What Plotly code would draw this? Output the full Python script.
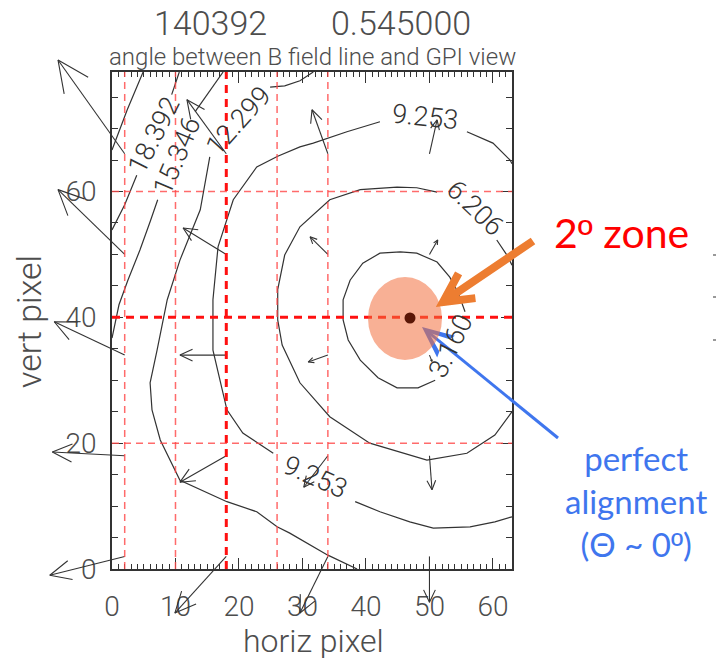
import math
import plotly.graph_objects as go

# ---------------------------------------------------------------------------
# Angle between B field line and GPI view, shot 140392 at t = 0.545 s
# Contour paths are (horiz pixel, vert pixel); None marks the gap left for
# the in-line level label.
# ---------------------------------------------------------------------------
LEVEL_TEXT = ["3.160", "6.206", "9.253", "9.253", "12.299", "15.346", "18.392"]
LABEL_X = [53.3, 57.2, 49.3, 32.0, 19.9, 10.2, 6.6]
LABEL_Y = [35.5, 57.4, 71.9, 14.6, 71.2, 65.7, 69.0]
LABEL_ANGLE = [-64, 44, 6, 24, -48, -67, -63]

c3160 = [(55.6, 40.9), (54.5, 44.0), (53.2, 46.4), (51.2, 48.8), (48.0, 50.2),
         (45.4, 50.4), (42.2, 50.2), (39.5, 48.6), (37.5, 45.9), (36.4, 42.8),
         (36.4, 39.6), (37.2, 36.4), (39.1, 33.2), (41.9, 30.4), (44.9, 28.8),
         (48.2, 28.8), (50.9, 30.0)]
c6206 = [(63.0, 48.3), (62.2, 49.9), (60.6, 52.3), None,
         (51.2, 59.9), (48.0, 60.6), (44.9, 60.7), (39.1, 60.3), (34.3, 58.7),
         (29.6, 54.4), (27.2, 49.9), (26.1, 44.4), (26.1, 39.6), (26.8, 35.6),
         (29.6, 29.6), (34.3, 24.2), (40.6, 20.0), (49.6, 17.3), (55.9, 18.4),
         (60.3, 21.3), (63.0, 25.0)]
c9253 = [(63.0, 64.4), (62.7, 65.0), (60.0, 67.7), (55.9, 69.5), None,
         (42.2, 71.1), (37.0, 69.5), (31.7, 67.7), (29.6, 67.1), (26.1, 65.6),
         (22.8, 63.9), (19.1, 58.7), (16.7, 51.2), (15.9, 42.8), (15.9, 34.8),
         (18.1, 25.3), (20.6, 21.6), (25.4, 18.4), None,
         (38.3, 10.7), (42.2, 9.1), (46.9, 7.5), (50.6, 6.5), (56.4, 6.7),
         (60.3, 7.5), (63.0, 8.3)]
c12299 = [(38.6, 0.0), (34.0, 2.2), (28.0, 5.7), (26.0, 6.7), (22.8, 9.1),
          (18.1, 10.7), (10.7, 14.1), (7.6, 20.5), (6.3, 25.3), (6.0, 29.6),
          (7.1, 34.8), (8.7, 42.8), (10.7, 49.1), (13.9, 57.1), (15.4, 65.5), None,
          (24.9, 76.6), (27.2, 76.8), (29.6, 77.6), (31.7, 79.0)]
c15346 = [(0.0, 36.7), (1.1, 42.0), (2.5, 45.9), (4.4, 50.7), (6.0, 55.2),
          (7.2, 58.7), None, (13.1, 72.7), (17.5, 79.0)]
c18392 = [(0.0, 53.9), (2.0, 57.9), (3.9, 62.6), None, (9.4, 75.4), (10.6, 79.0)]
c21438 = [(0.0, 66.6), (2.4, 73.0), (4.9, 79.0)]

# B-field direction vectors sampled on a coarse grid
VEC_X0 = [2, 18, 34, 50]
VEC_Y0 = [2, 18, 34, 50, 66]
VEC_U = [[-11.8, -8.1, -4.4, 0.0],
         [-11.4, -7.3, -3.8, 0.4],
         [-11.1, -7.3, -3.1, 0.4],
         [-10.5, -6.8, -2.8, 1.3],
         [-10.5, -6.2, -2.5, 1.2]]
VEC_V = [[-3.0, -9.0, -9.0, -7.3],
         [0.6, -4.2, -5.0, -5.4],
         [5.3, 0.0, -1.1, -1.0],
         [10.3, 4.2, 2.8, 2.3],
         [14.9, 8.6, 7.0, 5.4]]

# GPI view-chord guide lines
GUIDE_X = [2, 10, 18, 26, 34]
GUIDE_Y = [20, 40, 60]
GUIDE_X_BOLD = 18
GUIDE_Y_BOLD = 40

X_RANGE = [0, 63]
Y_RANGE = [0, 79]
X_TICKS = [0, 10, 20, 30, 40, 50, 60]
Y_TICKS = [0, 20, 40, 60]

# ---------------------------------------------------------------------------
W, H = 718, 661
ML, MR, MT, MB = 112, 206, 72, 92          # frame position inside the page
PW, PH = W - ML - MR, H - MT - MB

# a second, invisible pair of axes spans the whole page with the same units,
# so that vectors leaving the frame are not clipped
SX = PW / (X_RANGE[1] - X_RANGE[0])
SY = PH / (Y_RANGE[1] - Y_RANGE[0])
X2_RANGE = [X_RANGE[0] - ML / SX, X_RANGE[1] + MR / SX]
Y2_RANGE = [Y_RANGE[0] - MB / SY, Y_RANGE[1] + MT / SY]

def pxx(x):
    return x / W

def pxy(y):
    return 1 - y / H

INK = "#333333"
TXT = "#4d4d4d"
FONT = "Roboto"

fig = go.Figure()

for path in [c3160, c6206, c9253, c12299, c15346, c18392, c21438]:
    xs = [p[0] if p else None for p in path]
    ys = [p[1] if p else None for p in path]
    fig.add_trace(go.Scatter(x=xs, y=ys, mode="lines", connectgaps=False,
                             line=dict(color=INK, width=1.2),
                             hoverinfo="skip", showlegend=False))

# vector arrows with open heads
ax_, ay_ = [], []
for j, y0 in enumerate(VEC_Y0):
    for i, x0 in enumerate(VEC_X0):
        u, v = VEC_U[j][i], VEC_V[j][i]
        length = math.hypot(u, v)
        if length == 0:
            continue
        x1, y1 = x0 + u, y0 + v
        ang = math.atan2(v, u)
        head = 0.3 * length
        hx = [x1 + head * math.cos(ang + math.pi + s * math.radians(25)) for s in (1, -1)]
        hy = [y1 + head * math.sin(ang + math.pi + s * math.radians(25)) for s in (1, -1)]
        ax_ += [x0, x1, None, hx[0], x1, hx[1], None]
        ay_ += [y0, y1, None, hy[0], y1, hy[1], None]
fig.add_trace(go.Scatter(x=ax_, y=ay_, mode="lines", xaxis="x2", yaxis="y2",
                         line=dict(color=INK, width=1.1), connectgaps=False,
                         hoverinfo="skip", showlegend=False))

annotations = []

# contour level labels
for t, x, y, a in zip(LEVEL_TEXT, LABEL_X, LABEL_Y, LABEL_ANGLE):
    annotations.append(dict(x=x, y=y, xref="x", yref="y", text=t, textangle=a,
                            showarrow=False,
                            font=dict(family=FONT, size=27, color=INK, weight=300)))

def ptext(x, y, text, size, color=TXT, angle=0, family=FONT, weight=300, **kw):
    d = dict(x=pxx(x), y=pxy(y), xref="paper", yref="paper", text=text,
             showarrow=False, textangle=angle, xanchor="center", yanchor="middle",
             font=dict(family=family, size=size, color=color, weight=weight))
    d.update(kw)
    return d

ORD = '<span style="font-family:Liberation Sans">º</span>'
annotations += [
    ptext(210, 23, "140392", 34),
    ptext(401, 23, "0.545000", 34),
    ptext(312, 57, "angle between B field line and GPI view", 24),
    ptext(313, 641, "horiz pixel", 32),
    ptext(29, 322, "vert pixel", 34, angle=-90),
    ptext(621, 232, "2" + ORD + " zone", 41, color="#ff0000", family="Lato", weight=400),
    ptext(636, 436, "perfect<br>alignment<br>(Θ ~ 0" + ORD + ")", 33, color="#3f76ee",
          family="Lato", weight=400, yanchor="top"),
]

shapes = []
for gx in GUIDE_X:
    bold = gx == GUIDE_X_BOLD
    shapes.append(dict(type="line", xref="x", yref="y", x0=gx, x1=gx,
                       y0=Y_RANGE[0], y1=Y_RANGE[1], layer="above",
                       line=dict(color="#ff1010" if bold else "rgba(255,70,70,0.8)",
                                 width=3 if bold else 1.5,
                                 dash="8px,6px" if bold else "7px,5px")))
for gy in GUIDE_Y:
    bold = gy == GUIDE_Y_BOLD
    shapes.append(dict(type="line", xref="x", yref="y", y0=gy, y1=gy,
                       x0=X_RANGE[0], x1=X_RANGE[1], layer="above",
                       line=dict(color="#ff1010" if bold else "rgba(255,70,70,0.8)",
                                 width=3 if bold else 1.5,
                                 dash="8px,6px" if bold else "7px,5px")))

def ppath(points, close=False):
    s = "M " + " L ".join(f"{pxx(x):.5f},{pxy(y):.5f}" for x, y in points)
    return s + (" Z" if close else "")

# blue pointer: thin shaft, notched head
tail, tip = (558, 438), (422, 327)
dx, dy = tail[0] - tip[0], tail[1] - tip[1]
n = math.hypot(dx, dy)
bx, by = dx / n, dy / n
qx, qy = -by, bx
def off(a, b):
    return (tip[0] + a * bx + b * qx, tip[1] + a * by + b * qy)
shapes.append(dict(type="path", xref="paper", yref="paper", layer="above",
                   path=ppath([tail, off(8, 0)]),
                   line=dict(color="#3f76ee", width=3)))
shapes.append(dict(type="path", xref="paper", yref="paper", layer="above",
                   path=ppath([tip, off(31, 14), off(29, 8), off(9, 0),
                               off(29, -8), off(31, -14)], close=True),
                   fillcolor="#3f76ee", line=dict(width=0)))

# highlighted zone around the minimum
shapes.append(dict(type="circle", xref="paper", yref="paper", layer="above",
                   x0=pxx(368), x1=pxx(442), y0=pxy(360), y1=pxy(277),
                   fillcolor="rgba(243,112,62,0.55)", line=dict(width=0)))
shapes.append(dict(type="circle", xref="paper", yref="paper", layer="above",
                   x0=pxx(404.5), x1=pxx(415.5), y0=pxy(323.5), y1=pxy(312.5),
                   fillcolor="#5a1606", line=dict(width=0)))

# orange pointer with open head
otail, otip = (533, 241), (443, 302)
dx, dy = otail[0] - otip[0], otail[1] - otip[1]
n = math.hypot(dx, dy)
bx, by = dx / n, dy / n
qx, qy = -by, bx
b1 = (otip[0] + 29 * bx + 15 * qx, otip[1] + 29 * by + 15 * qy)
b2 = (otip[0] + 29 * bx - 15 * qx, otip[1] + 29 * by - 15 * qy)
shapes.append(dict(type="path", xref="paper", yref="paper", layer="above",
                   path=ppath([otail, otip]) + " " + ppath([b1, otip, b2]),
                   line=dict(color="#ed7d31", width=8)))

# small marks at the right border
for yy in (255, 297, 340):
    shapes.append(dict(type="line", xref="paper", yref="paper", layer="above",
                       x0=pxx(713), x1=pxx(716), y0=pxy(yy), y1=pxy(yy),
                       line=dict(color="#777777", width=1.5)))

axis_common = dict(showgrid=False, zeroline=False, showline=True, linecolor=INK,
                   linewidth=1.5, mirror="allticks", ticks="inside", ticklen=11,
                   tickwidth=1.2, tickcolor=INK, automargin=False,
                   tickfont=dict(family=FONT, size=28, color=TXT, weight=300))

fig.update_layout(
    width=W, height=H,
    margin=dict(l=0, r=0, t=0, b=0, pad=0),
    paper_bgcolor="white", plot_bgcolor="rgba(0,0,0,0)",
    showlegend=False,
    xaxis=dict(range=X_RANGE, tickvals=X_TICKS, ticklabelstandoff=12,
               domain=[ML / W, (W - MR) / W], anchor="y",
               minor=dict(dtick=1, ticklen=5, ticks="inside", tickcolor=INK, tickwidth=1),
               **axis_common),
    yaxis=dict(range=Y_RANGE, tickvals=Y_TICKS, ticklabelstandoff=8,
               domain=[MB / H, (H - MT) / H], anchor="x",
               minor=dict(dtick=5, ticklen=6, ticks="inside", tickcolor=INK, tickwidth=1),
               **axis_common),
    xaxis2=dict(range=X2_RANGE, domain=[0, 1], anchor="y2", visible=False),
    yaxis2=dict(range=Y2_RANGE, domain=[0, 1], anchor="x2", visible=False),
    annotations=annotations,
    shapes=shapes,
)

fig.write_html("out.html")
